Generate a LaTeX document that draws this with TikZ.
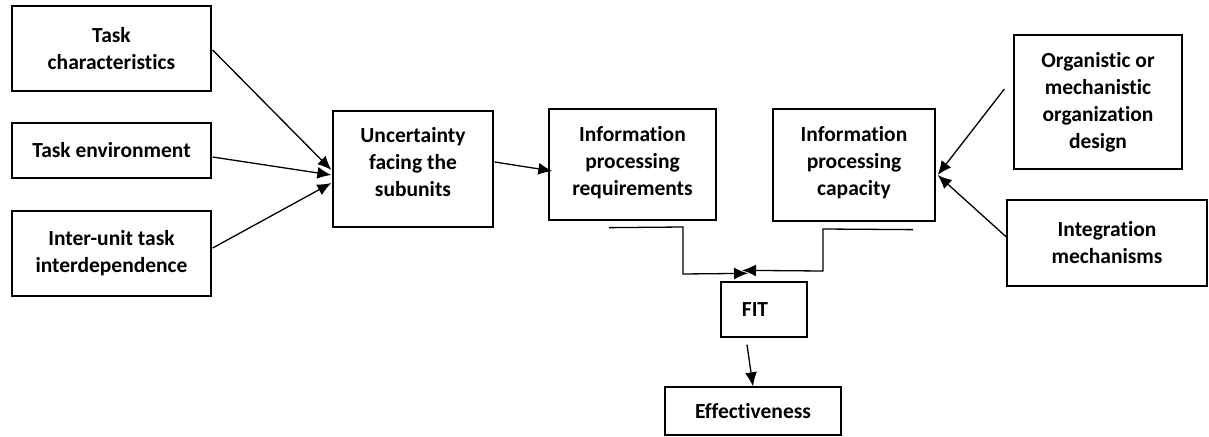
\documentclass[tikz,border=0pt]{standalone}
\usepackage{fontspec}
\setmainfont{Carlito}[Ligatures=NoCommon]
\usetikzlibrary{calc,arrows.meta}
\begin{document}
\begin{tikzpicture}[x=1pt,y=-1pt,
  box/.style={draw,line width=1.3pt,align=center,inner sep=0pt,
    font=\bfseries\fontsize{21.5}{27}\selectfont},
  conn/.style={line width=1.3pt,-{Latex[length=14pt,width=12pt]}},
  plain/.style={line width=1.3pt}]
\useasboundingbox (0,0) rectangle (1209,436);
\node[box,minimum width=199pt,minimum height=85pt] (tc) at (111.5,48.5) {Task\\characteristics};
\node[box,minimum width=199pt,minimum height=55pt] (te) at (111.5,150.5) {Task environment};
\node[box,minimum width=199pt,minimum height=85pt] (iu) at (111.5,253.5) {Inter-unit task\\interdependence};
\node[box,minimum width=160pt,minimum height=116pt,text depth=14pt] (unc) at (413,169) {Uncertainty\\facing the\\subunits};
\node[box,minimum width=167pt,minimum height=111pt,text depth=8pt] (ipr) at (632.5,164.5) {Information\\processing\\requirements};
\node[box,minimum width=162pt,minimum height=112pt,text depth=8pt] (ipc) at (854,165) {Information\\processing\\capacity};
\node[box,minimum width=168pt,minimum height=134pt] (org) at (1098,102) {Organistic or\\mechanistic\\organization\\design};
\node[box,minimum width=200pt,minimum height=86pt] (integ) at (1107,243) {Integration\\mechanisms};
\node[box,minimum width=86pt,minimum height=55pt] (fit) at (764,309.5) {\hspace*{-18pt}FIT};
\node[box,minimum width=176pt,minimum height=48pt] (eff) at (753,411) {Effectiveness};

\draw[conn] ($(tc.east)+(1,1.5)$) -- ($(unc.west)+(-1,1)$);
\draw[conn] ($(te.east)+(1,6.5)$) -- ($(unc.west)+(-1,6)$);
\draw[conn] ($(iu.east)+(1,-5.5)$) -- ($(unc.west)+(-1,14)$);
\draw[conn] ($(unc.east)+(1,-7)$) -- ($(ipr.west)+(4,6.5)$);

\coordinate (lstart) at ($(ipr.south)+(-23.5,7)$);
\coordinate (rstart) at ($(ipc.south)+(59,8)$);
\draw[conn] (lstart) -- (683,227) -- (683,274) -- ($(fit.north)+(-16,-8)$);
\draw[conn] (rstart) -- (823,229) -- (823,271) -- ($(fit.north)+(-22,-11)$);
\draw[conn] ($(fit.south)+(-17,7)$) -- (eff.north);

\draw[conn] ($(org.west)+(-9,-13)$) -- ($(ipc.east)+(2,10)$);
\draw[conn] ($(integ.west)+(0,-6)$) -- ($(ipc.east)+(2,10)$);
\end{tikzpicture}
\end{document}
